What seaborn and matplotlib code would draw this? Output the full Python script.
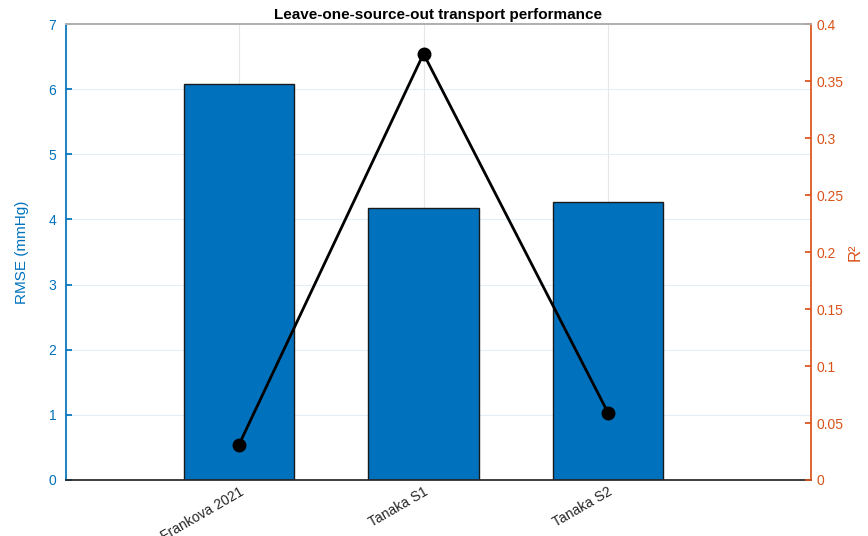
import matplotlib
matplotlib.use("Agg")
import matplotlib.pyplot as plt
import seaborn as sns
import pandas as pd

sources = ["Frankova 2021", "Tanaka S1", "Tanaka S2"]
rmse = [6.08, 4.18, 4.27]
r2 = [0.031, 0.374, 0.059]

blue = "#0072BD"
orange = "#D95319"

sns.set_theme(style="white")
plt.rcParams['font.family'] = ['Liberation Sans', 'DejaVu Sans']

df = pd.DataFrame({"source": sources, "rmse": rmse, "r2": r2})

fig = plt.figure(figsize=(8.68, 5.36), dpi=100)
ax = fig.add_axes([0.076, 0.1045, 0.8583, 0.8505])

sns.barplot(data=df, x="source", y="rmse", color=blue, saturation=1,
            width=0.6, edgecolor="#1a1a1a", linewidth=1.0, ax=ax, zorder=2)
ax.set_xlim(-0.938, 3.1)
ax.set_ylim(0, 7)
ax.set_yticks(range(0, 8))
ax.set_ylabel("RMSE (mmHg)", color=blue, fontsize=11, labelpad=14)
ax.set_xlabel("")
ax.tick_params(axis="y", colors=blue, labelsize=10, direction="in", length=4, pad=7)
ax.tick_params(axis="x", colors="#262626", labelsize=10, direction="in", length=4)
plt.setp(ax.get_xticklabels(), rotation=30, ha="right", rotation_mode="anchor")
ax.grid(True, axis="y", color="#e3edf5", linewidth=0.8, zorder=0)
ax.grid(True, axis="x", color="#e6e6e6", linewidth=0.8, zorder=0)
ax.set_axisbelow(True)
ax.spines["left"].set_color(blue)
ax.spines["bottom"].set_color("#262626")
ax.spines["top"].set_color("#b0b0b0")
ax.spines["right"].set_visible(False)

ax2 = ax.twinx()
sns.pointplot(data=df, x="source", y="r2", color="black", markers="o",
              linestyles="-", ax=ax2, zorder=3)
for line in ax2.lines:
    line.set_linewidth(2)
    line.set_markersize(8)
ax2.set_xlim(-0.938, 3.1)
ax2.set_ylim(0, 0.4)
ax2.set_yticks([0, 0.05, 0.1, 0.15, 0.2, 0.25, 0.3, 0.35, 0.4])
ax2.set_yticklabels(["0", "0.05", "0.1", "0.15", "0.2", "0.25", "0.3", "0.35", "0.4"])
ax2.set_ylabel("R²", color=orange, fontsize=12, labelpad=3)
ax2.tick_params(axis="y", colors=orange, labelsize=10, direction="in", length=4, pad=4)
ax2.spines["right"].set_color(orange)
ax2.spines["left"].set_visible(False)
ax2.spines["top"].set_color("#b0b0b0")
ax2.spines["bottom"].set_visible(False)

ax.set_title("Leave-one-source-out transport performance", fontsize=11,
             fontweight="bold", color="black", pad=4)

fig.savefig("out.png", dpi=100)
